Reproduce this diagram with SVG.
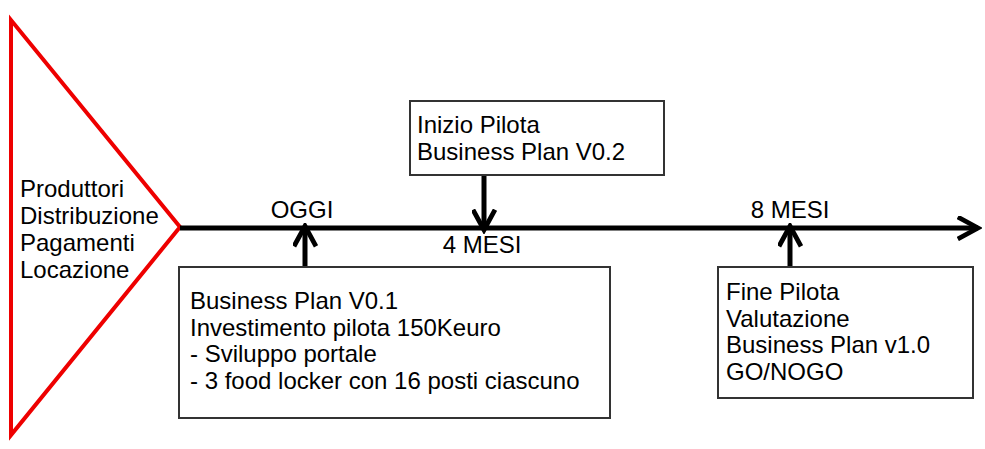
<svg xmlns="http://www.w3.org/2000/svg" width="985" height="449" viewBox="0 0 985 449">
  <style>
    text { font-family: "Liberation Sans", Arial, sans-serif; font-size: 24px; fill: #000; }
    .box { fill: #fff; stroke: #333; stroke-width: 2; }
    .line { stroke: #000; stroke-width: 5; fill: none; }
    .mid { text-anchor: middle; }
  </style>
  <defs>
    <marker id="chev" viewBox="0 0 10 10" refX="8.6" refY="5" markerWidth="5" markerHeight="5" markerUnits="strokeWidth" orient="auto">
      <path d="M0.5,0.6 L8.6,5 L0.5,9.4" fill="none" stroke="#000" stroke-width="1.9"/>
    </marker>
  </defs>

  <g id="scope">
    <polygon points="11,20 11,435 180,227" fill="#fff" stroke="#e00" stroke-width="4"/>
    <text x="20" y="197">Produttori</text>
    <text x="20" y="224">Distribuzione</text>
    <text x="20" y="251">Pagamenti</text>
    <text x="20" y="278">Locazione</text>
  </g>

  <g id="connectors">
    <line class="line" x1="180" y1="228" x2="978" y2="228" marker-end="url(#chev)"/>
    <line class="line" x1="305" y1="267" x2="305" y2="226" marker-end="url(#chev)"/>
    <line class="line" x1="484" y1="175" x2="484" y2="230" marker-end="url(#chev)"/>
    <line class="line" x1="790" y1="267" x2="790" y2="226" marker-end="url(#chev)"/>
  </g>

  <g id="today">
    <text class="mid" x="302" y="218">OGGI</text>
    <rect class="box" x="179" y="267" width="431" height="151"/>
    <text x="190" y="309">Business Plan V0.1</text>
    <text x="190" y="336">Investimento pilota 150Keuro</text>
    <text x="190" y="362">- Sviluppo portale</text>
    <text x="190" y="389">- 3 food locker con 16 posti ciascuno</text>
  </g>

  <g id="month4">
    <rect class="box" x="410" y="101" width="254" height="74"/>
    <text x="417" y="133">Inizio Pilota</text>
    <text x="417" y="160">Business Plan V0.2</text>
    <text class="mid" x="482" y="253">4 MESI</text>
  </g>

  <g id="month8">
    <text class="mid" x="790" y="218">8 MESI</text>
    <rect class="box" x="718" y="267" width="255" height="131"/>
    <text x="726" y="300">Fine Pilota</text>
    <text x="726" y="327">Valutazione</text>
    <text x="726" y="353">Business Plan v1.0</text>
    <text x="726" y="380">GO/NOGO</text>
  </g>
</svg>
